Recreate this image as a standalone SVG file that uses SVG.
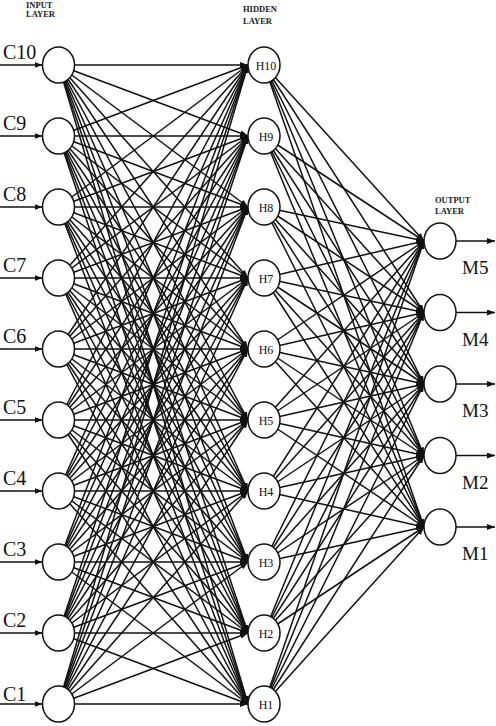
<svg xmlns="http://www.w3.org/2000/svg" width="496" height="726" viewBox="0 0 496 726">
<style>
.c line{stroke:#111;stroke-width:1.5;marker-end:url(#ah)}
.n ellipse{fill:#fff;stroke:#111;stroke-width:1.5}
.lay{font-family:"Liberation Serif",serif;font-weight:bold;font-size:8.5px;fill:#222}
.cl{font-family:"Liberation Serif",serif;font-size:20px;fill:#111}
.hl{font-family:"Liberation Serif",serif;font-size:12px;fill:#111;text-anchor:middle}
.ml{font-family:"Liberation Serif",serif;font-size:19px;fill:#111}
</style>
<defs>
<marker id="ah" markerUnits="userSpaceOnUse" markerWidth="8" markerHeight="6" refX="8" refY="3" orient="auto">
<path d="M0,0 L8,3 L0,6 z" fill="#111"/>
</marker>
</defs>
<text class="lay" x="26" y="7.5">INPUT</text>
<text class="lay" x="26" y="17">LAYER</text>
<text class="lay" x="243" y="12">HIDDEN</text>
<text class="lay" x="243" y="24">LAYER</text>
<text class="lay" x="435" y="203">OUTPUT</text>
<text class="lay" x="435" y="214">LAYER</text>
<g id="connectors" class="c">
<line x1="0" y1="65" x2="42.5" y2="65"/>
<line x1="0" y1="136" x2="42.5" y2="136"/>
<line x1="0" y1="207" x2="42.5" y2="207"/>
<line x1="0" y1="278" x2="42.5" y2="278"/>
<line x1="0" y1="349" x2="42.5" y2="349"/>
<line x1="0" y1="420" x2="42.5" y2="420"/>
<line x1="0" y1="491" x2="42.5" y2="491"/>
<line x1="0" y1="562" x2="42.5" y2="562"/>
<line x1="0" y1="633" x2="42.5" y2="633"/>
<line x1="0" y1="704" x2="42.5" y2="704"/>
<line x1="456" y1="241" x2="495" y2="241"/>
<line x1="456" y1="312.5" x2="495" y2="312.5"/>
<line x1="456" y1="384" x2="495" y2="384"/>
<line x1="456" y1="455.5" x2="495" y2="455.5"/>
<line x1="456" y1="527" x2="495" y2="527"/>
<line x1="58.5" y1="65" x2="248" y2="65"/><line x1="58.5" y1="65" x2="248" y2="136"/><line x1="58.5" y1="65" x2="248" y2="207"/><line x1="58.5" y1="65" x2="248" y2="278"/><line x1="58.5" y1="65" x2="248" y2="349"/><line x1="58.5" y1="65" x2="248" y2="420"/><line x1="58.5" y1="65" x2="248" y2="491"/><line x1="58.5" y1="65" x2="248" y2="562"/><line x1="58.5" y1="65" x2="248" y2="633"/><line x1="58.5" y1="65" x2="248" y2="704"/>
<line x1="58.5" y1="136" x2="248" y2="65"/><line x1="58.5" y1="136" x2="248" y2="136"/><line x1="58.5" y1="136" x2="248" y2="207"/><line x1="58.5" y1="136" x2="248" y2="278"/><line x1="58.5" y1="136" x2="248" y2="349"/><line x1="58.5" y1="136" x2="248" y2="420"/><line x1="58.5" y1="136" x2="248" y2="491"/><line x1="58.5" y1="136" x2="248" y2="562"/><line x1="58.5" y1="136" x2="248" y2="633"/><line x1="58.5" y1="136" x2="248" y2="704"/>
<line x1="58.5" y1="207" x2="248" y2="65"/><line x1="58.5" y1="207" x2="248" y2="136"/><line x1="58.5" y1="207" x2="248" y2="207"/><line x1="58.5" y1="207" x2="248" y2="278"/><line x1="58.5" y1="207" x2="248" y2="349"/><line x1="58.5" y1="207" x2="248" y2="420"/><line x1="58.5" y1="207" x2="248" y2="491"/><line x1="58.5" y1="207" x2="248" y2="562"/><line x1="58.5" y1="207" x2="248" y2="633"/><line x1="58.5" y1="207" x2="248" y2="704"/>
<line x1="58.5" y1="278" x2="248" y2="65"/><line x1="58.5" y1="278" x2="248" y2="136"/><line x1="58.5" y1="278" x2="248" y2="207"/><line x1="58.5" y1="278" x2="248" y2="278"/><line x1="58.5" y1="278" x2="248" y2="349"/><line x1="58.5" y1="278" x2="248" y2="420"/><line x1="58.5" y1="278" x2="248" y2="491"/><line x1="58.5" y1="278" x2="248" y2="562"/><line x1="58.5" y1="278" x2="248" y2="633"/><line x1="58.5" y1="278" x2="248" y2="704"/>
<line x1="58.5" y1="349" x2="248" y2="65"/><line x1="58.5" y1="349" x2="248" y2="136"/><line x1="58.5" y1="349" x2="248" y2="207"/><line x1="58.5" y1="349" x2="248" y2="278"/><line x1="58.5" y1="349" x2="248" y2="349"/><line x1="58.5" y1="349" x2="248" y2="420"/><line x1="58.5" y1="349" x2="248" y2="491"/><line x1="58.5" y1="349" x2="248" y2="562"/><line x1="58.5" y1="349" x2="248" y2="633"/><line x1="58.5" y1="349" x2="248" y2="704"/>
<line x1="58.5" y1="420" x2="248" y2="65"/><line x1="58.5" y1="420" x2="248" y2="136"/><line x1="58.5" y1="420" x2="248" y2="207"/><line x1="58.5" y1="420" x2="248" y2="278"/><line x1="58.5" y1="420" x2="248" y2="349"/><line x1="58.5" y1="420" x2="248" y2="420"/><line x1="58.5" y1="420" x2="248" y2="491"/><line x1="58.5" y1="420" x2="248" y2="562"/><line x1="58.5" y1="420" x2="248" y2="633"/><line x1="58.5" y1="420" x2="248" y2="704"/>
<line x1="58.5" y1="491" x2="248" y2="65"/><line x1="58.5" y1="491" x2="248" y2="136"/><line x1="58.5" y1="491" x2="248" y2="207"/><line x1="58.5" y1="491" x2="248" y2="278"/><line x1="58.5" y1="491" x2="248" y2="349"/><line x1="58.5" y1="491" x2="248" y2="420"/><line x1="58.5" y1="491" x2="248" y2="491"/><line x1="58.5" y1="491" x2="248" y2="562"/><line x1="58.5" y1="491" x2="248" y2="633"/><line x1="58.5" y1="491" x2="248" y2="704"/>
<line x1="58.5" y1="562" x2="248" y2="65"/><line x1="58.5" y1="562" x2="248" y2="136"/><line x1="58.5" y1="562" x2="248" y2="207"/><line x1="58.5" y1="562" x2="248" y2="278"/><line x1="58.5" y1="562" x2="248" y2="349"/><line x1="58.5" y1="562" x2="248" y2="420"/><line x1="58.5" y1="562" x2="248" y2="491"/><line x1="58.5" y1="562" x2="248" y2="562"/><line x1="58.5" y1="562" x2="248" y2="633"/><line x1="58.5" y1="562" x2="248" y2="704"/>
<line x1="58.5" y1="633" x2="248" y2="65"/><line x1="58.5" y1="633" x2="248" y2="136"/><line x1="58.5" y1="633" x2="248" y2="207"/><line x1="58.5" y1="633" x2="248" y2="278"/><line x1="58.5" y1="633" x2="248" y2="349"/><line x1="58.5" y1="633" x2="248" y2="420"/><line x1="58.5" y1="633" x2="248" y2="491"/><line x1="58.5" y1="633" x2="248" y2="562"/><line x1="58.5" y1="633" x2="248" y2="633"/><line x1="58.5" y1="633" x2="248" y2="704"/>
<line x1="58.5" y1="704" x2="248" y2="65"/><line x1="58.5" y1="704" x2="248" y2="136"/><line x1="58.5" y1="704" x2="248" y2="207"/><line x1="58.5" y1="704" x2="248" y2="278"/><line x1="58.5" y1="704" x2="248" y2="349"/><line x1="58.5" y1="704" x2="248" y2="420"/><line x1="58.5" y1="704" x2="248" y2="491"/><line x1="58.5" y1="704" x2="248" y2="562"/><line x1="58.5" y1="704" x2="248" y2="633"/><line x1="58.5" y1="704" x2="248" y2="704"/>
<line x1="264" y1="65" x2="424" y2="241"/><line x1="264" y1="65" x2="424" y2="312.5"/><line x1="264" y1="65" x2="424" y2="384"/><line x1="264" y1="65" x2="424" y2="455.5"/><line x1="264" y1="65" x2="424" y2="527"/>
<line x1="264" y1="136" x2="424" y2="241"/><line x1="264" y1="136" x2="424" y2="312.5"/><line x1="264" y1="136" x2="424" y2="384"/><line x1="264" y1="136" x2="424" y2="455.5"/><line x1="264" y1="136" x2="424" y2="527"/>
<line x1="264" y1="207" x2="424" y2="241"/><line x1="264" y1="207" x2="424" y2="312.5"/><line x1="264" y1="207" x2="424" y2="384"/><line x1="264" y1="207" x2="424" y2="455.5"/><line x1="264" y1="207" x2="424" y2="527"/>
<line x1="264" y1="278" x2="424" y2="241"/><line x1="264" y1="278" x2="424" y2="312.5"/><line x1="264" y1="278" x2="424" y2="384"/><line x1="264" y1="278" x2="424" y2="455.5"/><line x1="264" y1="278" x2="424" y2="527"/>
<line x1="264" y1="349" x2="424" y2="241"/><line x1="264" y1="349" x2="424" y2="312.5"/><line x1="264" y1="349" x2="424" y2="384"/><line x1="264" y1="349" x2="424" y2="455.5"/><line x1="264" y1="349" x2="424" y2="527"/>
<line x1="264" y1="420" x2="424" y2="241"/><line x1="264" y1="420" x2="424" y2="312.5"/><line x1="264" y1="420" x2="424" y2="384"/><line x1="264" y1="420" x2="424" y2="455.5"/><line x1="264" y1="420" x2="424" y2="527"/>
<line x1="264" y1="491" x2="424" y2="241"/><line x1="264" y1="491" x2="424" y2="312.5"/><line x1="264" y1="491" x2="424" y2="384"/><line x1="264" y1="491" x2="424" y2="455.5"/><line x1="264" y1="491" x2="424" y2="527"/>
<line x1="264" y1="562" x2="424" y2="241"/><line x1="264" y1="562" x2="424" y2="312.5"/><line x1="264" y1="562" x2="424" y2="384"/><line x1="264" y1="562" x2="424" y2="455.5"/><line x1="264" y1="562" x2="424" y2="527"/>
<line x1="264" y1="633" x2="424" y2="241"/><line x1="264" y1="633" x2="424" y2="312.5"/><line x1="264" y1="633" x2="424" y2="384"/><line x1="264" y1="633" x2="424" y2="455.5"/><line x1="264" y1="633" x2="424" y2="527"/>
<line x1="264" y1="704" x2="424" y2="241"/><line x1="264" y1="704" x2="424" y2="312.5"/><line x1="264" y1="704" x2="424" y2="384"/><line x1="264" y1="704" x2="424" y2="455.5"/><line x1="264" y1="704" x2="424" y2="527"/>
</g>
<g class="n">
<g id="C10"><ellipse cx="58.5" cy="65" rx="16" ry="18"/><text class="cl" x="3" y="59">C10</text></g>
<g id="C9"><ellipse cx="58.5" cy="136" rx="16" ry="18"/><text class="cl" x="3" y="130">C9</text></g>
<g id="C8"><ellipse cx="58.5" cy="207" rx="16" ry="18"/><text class="cl" x="3" y="201">C8</text></g>
<g id="C7"><ellipse cx="58.5" cy="278" rx="16" ry="18"/><text class="cl" x="3" y="272">C7</text></g>
<g id="C6"><ellipse cx="58.5" cy="349" rx="16" ry="18"/><text class="cl" x="3" y="343">C6</text></g>
<g id="C5"><ellipse cx="58.5" cy="420" rx="16" ry="18"/><text class="cl" x="3" y="414">C5</text></g>
<g id="C4"><ellipse cx="58.5" cy="491" rx="16" ry="18"/><text class="cl" x="3" y="485">C4</text></g>
<g id="C3"><ellipse cx="58.5" cy="562" rx="16" ry="18"/><text class="cl" x="3" y="556">C3</text></g>
<g id="C2"><ellipse cx="58.5" cy="633" rx="16" ry="18"/><text class="cl" x="3" y="627">C2</text></g>
<g id="C1"><ellipse cx="58.5" cy="704" rx="16" ry="18"/><text class="cl" x="3" y="701">C1</text></g>
<g id="H10"><ellipse cx="264" cy="65" rx="16" ry="18"/><text class="hl" x="266" y="70">H10</text></g>
<g id="H9"><ellipse cx="264" cy="136" rx="16" ry="18"/><text class="hl" x="266" y="141">H9</text></g>
<g id="H8"><ellipse cx="264" cy="207" rx="16" ry="18"/><text class="hl" x="266" y="212">H8</text></g>
<g id="H7"><ellipse cx="264" cy="278" rx="16" ry="18"/><text class="hl" x="266" y="283">H7</text></g>
<g id="H6"><ellipse cx="264" cy="349" rx="16" ry="18"/><text class="hl" x="266" y="354">H6</text></g>
<g id="H5"><ellipse cx="264" cy="420" rx="16" ry="18"/><text class="hl" x="266" y="425">H5</text></g>
<g id="H4"><ellipse cx="264" cy="491" rx="16" ry="18"/><text class="hl" x="266" y="496">H4</text></g>
<g id="H3"><ellipse cx="264" cy="562" rx="16" ry="18"/><text class="hl" x="266" y="567">H3</text></g>
<g id="H2"><ellipse cx="264" cy="633" rx="16" ry="18"/><text class="hl" x="266" y="638">H2</text></g>
<g id="H1"><ellipse cx="264" cy="704" rx="16" ry="18"/><text class="hl" x="266" y="709">H1</text></g>
<g id="M5"><ellipse cx="440" cy="241" rx="16" ry="18"/><text class="ml" x="462" y="274">M5</text></g>
<g id="M4"><ellipse cx="440" cy="312.5" rx="16" ry="18"/><text class="ml" x="462" y="345.5">M4</text></g>
<g id="M3"><ellipse cx="440" cy="384" rx="16" ry="18"/><text class="ml" x="462" y="417">M3</text></g>
<g id="M2"><ellipse cx="440" cy="455.5" rx="16" ry="18"/><text class="ml" x="462" y="488.5">M2</text></g>
<g id="M1"><ellipse cx="440" cy="527" rx="16" ry="18"/><text class="ml" x="462" y="560">M1</text></g>
</g>
</svg>
